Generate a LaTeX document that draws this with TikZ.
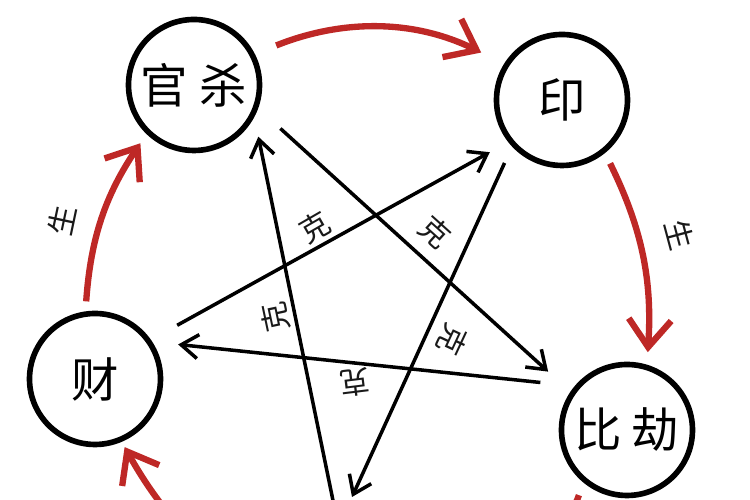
\documentclass[tikz,border=0pt]{standalone}
\usepackage{fontspec}
\usepackage{tikz}
\usepackage{xcolor}
\newfontfamily\cjk{Noto Sans CJK SC}
\usetikzlibrary{arrows.meta}
\definecolor{shengred}{RGB}{190,40,38}

\begin{document}
\begin{tikzpicture}
        \tikzstyle{gan}=[circle,line width=3.2pt,draw=black,fill=white,minimum size=2.62cm,inner sep=0pt,font=\cjk\fontsize{27}{30}\selectfont]
        \tikzstyle{kearrow}=[color=black,line width=2pt,-{Straight Barb[length=3.4mm,width=4.8mm]}]
        \tikzstyle{shengarrow}=[color=shengred,line width=3.6pt,-{Straight Barb[length=5.5mm,width=8.5mm]}]
        \tikzstyle{hanzi}=[font=\cjk\fontsize{17}{19}\selectfont,inner sep=0pt,text=black!90]
       \useasboundingbox (0,0) rectangle (15,10);
       \clip (0,0) rectangle (15,10);
       \begin{scope}
         \node [gan] (gs) at (3.88,8.30) {官\hspace{0.25em}杀};
         \node [gan] (yin) at (11.24,8.00) {印};
         \node [gan] (cai) at (1.90,2.42) {财};
         \node [gan] (bj) at (12.54,1.40) {比\hspace{0.2em}劫};
         % free ends towards the part cut off below
         \coordinate (ssA) at (6.74,-0.4);
         \coordinate (ssB) at (7.04,0.06);
         \coordinate (ssC) at (3.90,-0.90);
         \coordinate (ssD) at (11.10,-0.70);
         % sheng cycle
         \path[shengarrow] (gs.27) edge[bend left=24,shorten <=4.6mm,shorten >=5.1mm] (yin.148);
         \path[shengarrow] (yin.-51) edge[bend left=15,shorten <=2.3mm,shorten >=2.5mm] (bj.73);
         \path[shengarrow] (cai.98) edge[bend left=15,shorten <=2mm,shorten >=2.2mm] (gs.-134);
         \path[shengarrow] (ssC) edge[bend left=6,shorten >=1.2mm] (cai.-67);
         \path[shengarrow,-] (bj.-130) edge[bend left=10,shorten <=2.7mm] (ssD);
         % ke star
         \path[kearrow] (gs.-20) edge[shorten <=6mm,shorten >=6mm] (bj.146);
         \path[kearrow] (cai.35) edge[shorten <=6mm,shorten >=4.2mm] (yin.-142);
         \path[kearrow] (bj.140) edge[shorten <=6.9mm,shorten >=5.2mm] (cai.33);
         \path[kearrow] (ssA) edge[shorten >=4mm] (gs.-28);
         \path[kearrow] (yin.-137) edge[shorten <=3.6mm] (ssB);
         % labels
         \node [hanzi,rotate=30] (k1) at (6.30,5.46) {克};
         \node [hanzi,rotate=-42] (k2) at (8.70,5.36) {克};
         \node [hanzi,rotate=102] (k3) at (5.50,3.66) {克};
         \node [hanzi,rotate=-115] (k4) at (9.04,3.20) {克};
         \node [hanzi,rotate=187] (k5) at (7.10,2.34) {克};
         \node [hanzi,rotate=78] (s1) at (1.24,5.60) {生};
         \node [hanzi,rotate=-75] (s2) at (13.60,5.30) {生};
        \end{scope}
      \end{tikzpicture}
\end{document}
